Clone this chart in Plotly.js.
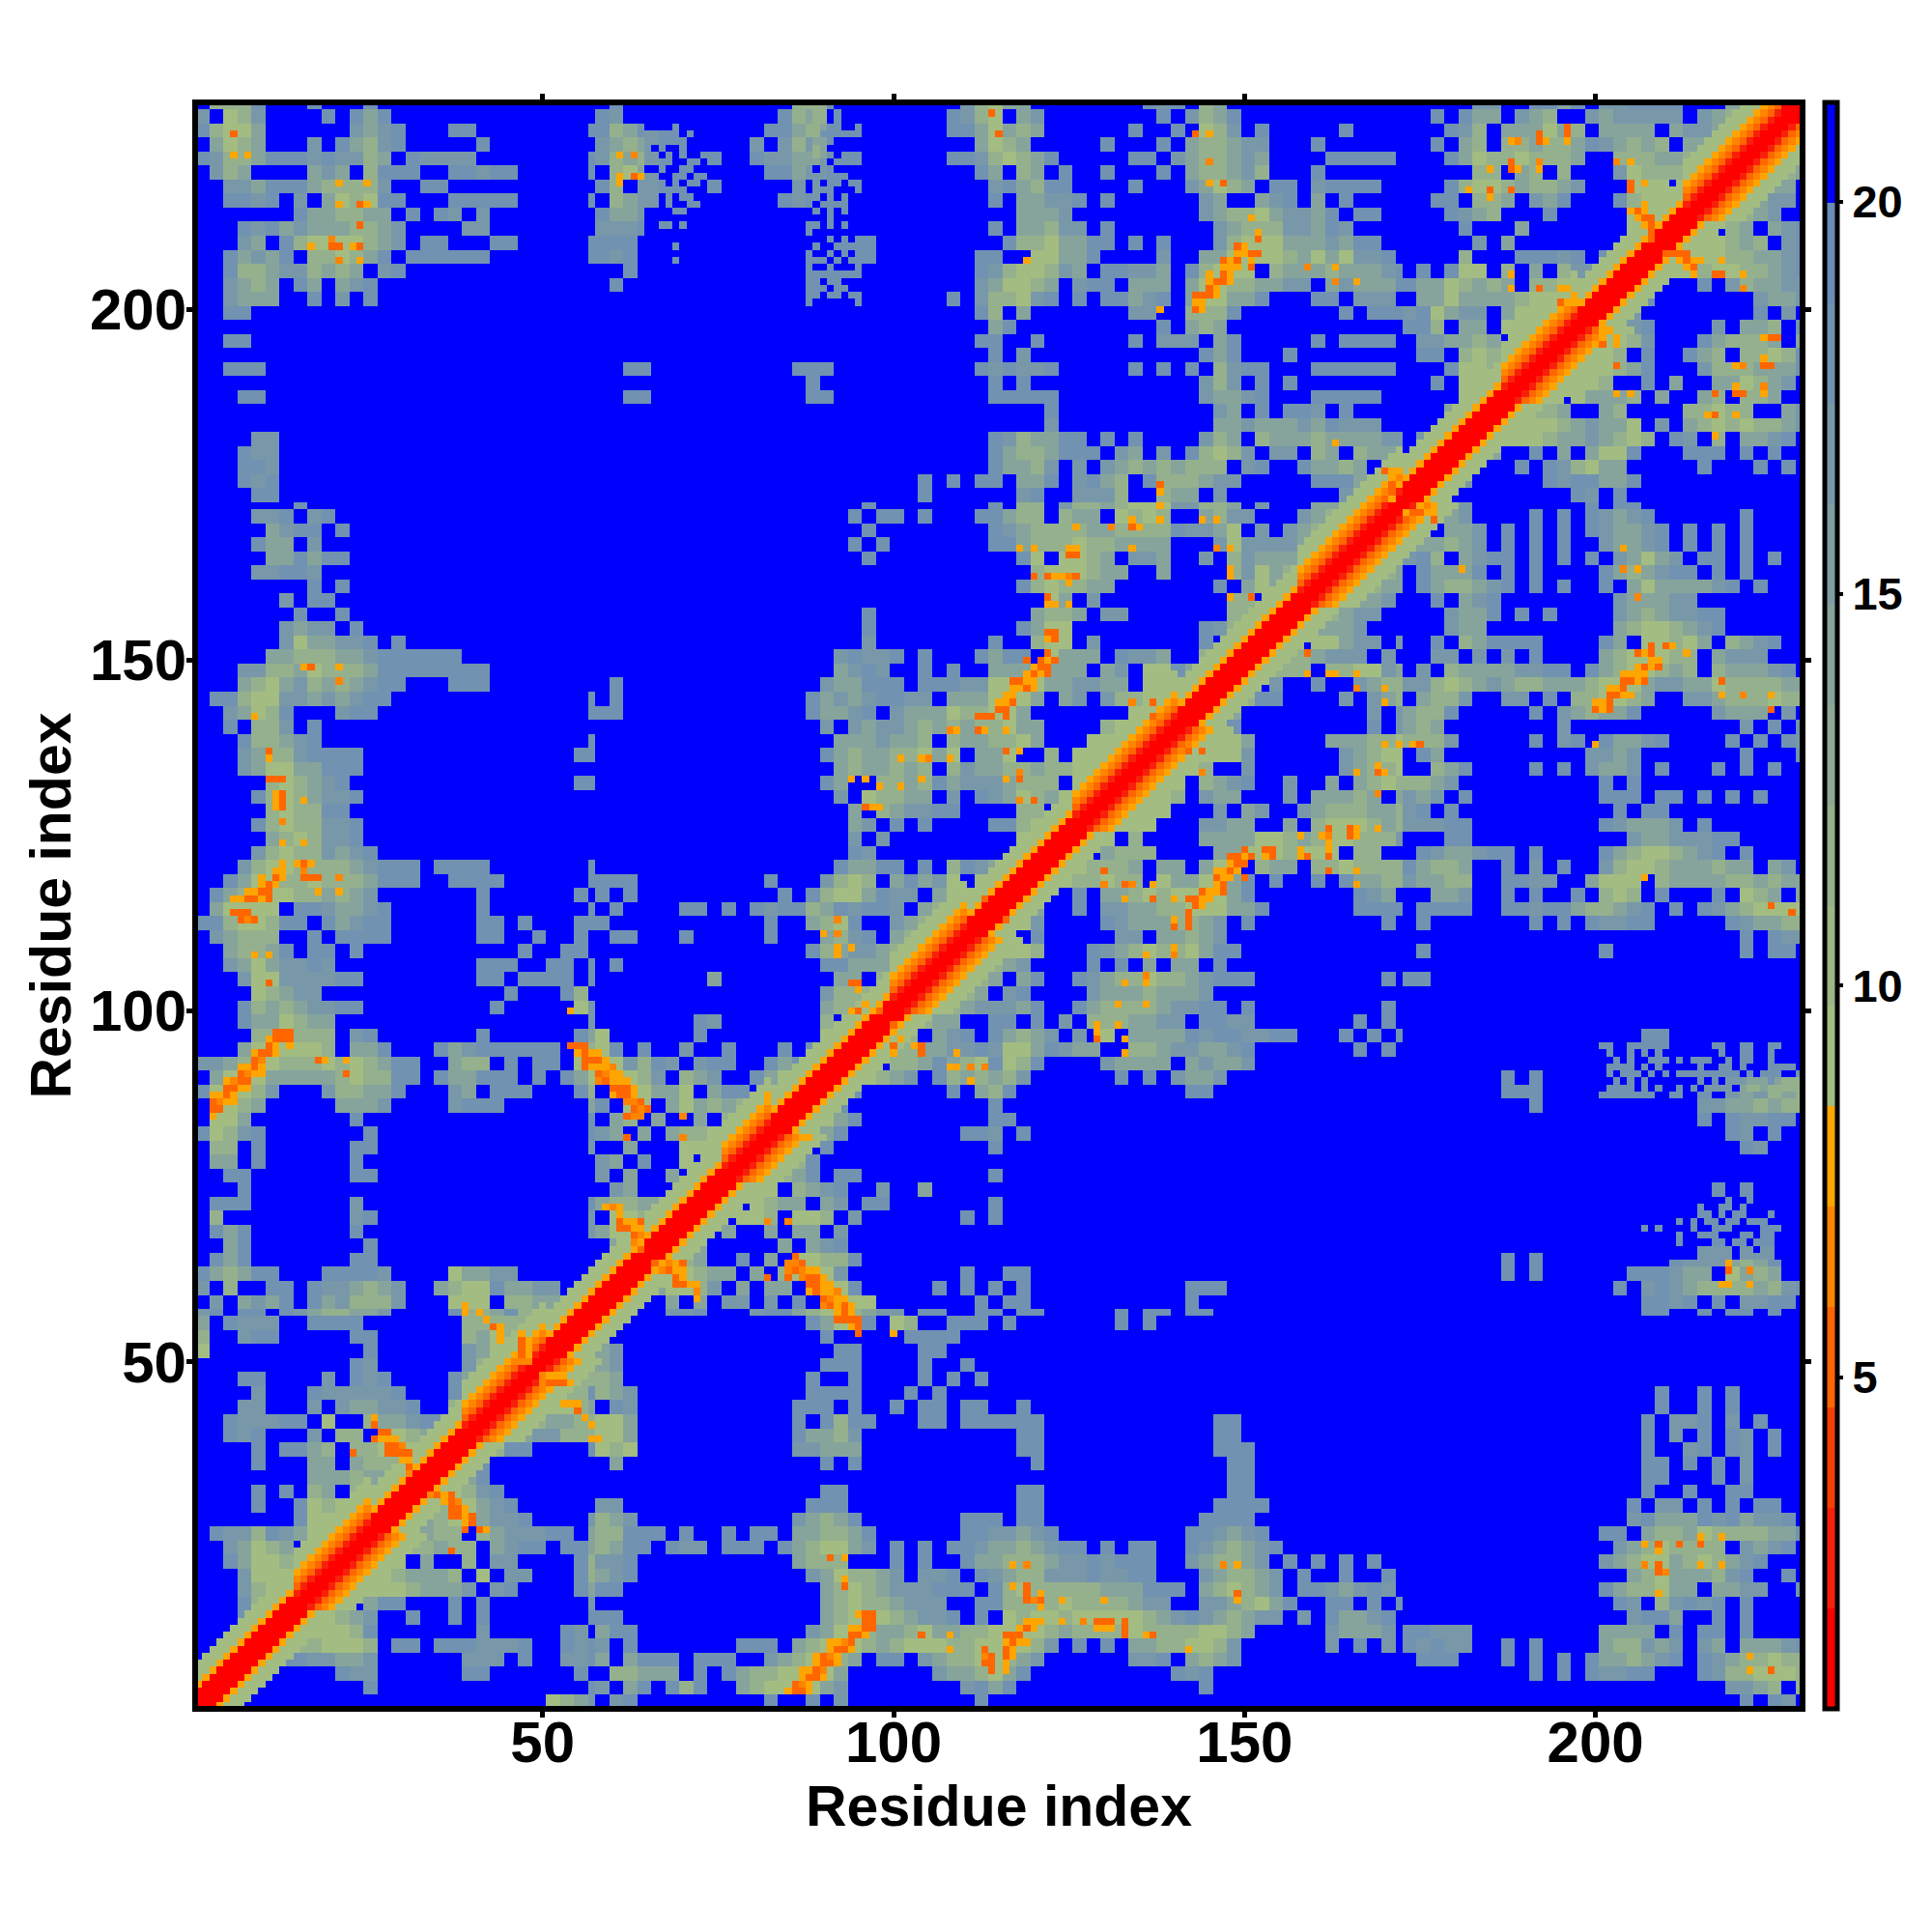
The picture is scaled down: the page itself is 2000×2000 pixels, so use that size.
<!DOCTYPE html>
<html><head><meta charset="utf-8">
<script src="https://cdn.plot.ly/plotly-3.0.1.min.js"></script>
<style>html,body{margin:0;padding:0;background:#fff}</style></head>
<body><div id="chart" style="width:2000px;height:2000px"></div>
<script>
// distance bands (Angstrom codes)
const residueCount = 229;
const codes = {'.':20.6,a:18.6,b:16.5,c:14,d:11.5,e:9.5,o:7.8,p:6.5,q:5.2,s:2.7,r:1.4};
const bandColors = ['#ff0000','#f8200a','#f44000','#ff6600','#ff8500','#ffa500','#a3bc82','#9cb687','#95b08d','#8eaa94','#86a49b','#7f9ea2','#7898a9','#7192b0','#6a8cb6','#0000ff'];
const zMin = 0.77, zMax = 21.27;
const xTicks = [50,100,150,200];
const barTicks = [5,10,15,20];

// off-diagonal contact tiles: 2-residue cells, top row = highest y
const t00 = ["e","ee","eee","eeed","eeedc","eeeedd","eeeedda","eeeeeedc","eeeedccdd","eeedcbbddd","ee.daa....a","eeda........","eeeca........","eeeedba.......","eeedeecba......","edccdeecbba....b","ed..cdd.dcbbbaa.c","eed.ddcdd.cbaa.aac","eeede.c..d.bb....ad","eeeeedcccd.e.bb...ad","eeeeeedcccb.ba....ac","eeee.caa...a.a.......b","eeeedcb..a..a.a.......a","eeeeeeda.......b.....ab.","eedddeeed.aa.aaabbba..aba","eccaabbccb......bbb.a..bba","dca.....abb......aa......a.","dca........a...............a","edcb"];
const t10 = ["e.d..bba...baacdeedcbb.aa..aa","ed.............aceea.ed..aaa.","d...............a.....aaaa...","cb...............aa....aa....","cb..............aaa....a..a..","dc.............a..a....a.a.a.","dcb............aaaa...a.a....",".ab...........aaa.a..a.aa.aa.","eec...........a.adaa...aa.aaa","eec...........accdb..........","ede...........bbccc..........",".c..............a.a..........","","................aa...........","bb.............aaa...........","dcb...........bcdca.......aaa","ddaaa.a..a.aa.ccddca......aab","dcaa.abb.aaa.acdeecb.a.a.aabc","bba...........cddd...a.a..acc","cba............bceddcb.bba.ab","aa..............cdedcbbbaaa.a","................cdeddcbbb..aa","aa..............cdeeedcbba.a.","caa............bceedccdeccdde","b.a.......aaa.cdeeedcdeeeddee","c.caaa.aaa..bcdeedc.aa.bcddee",".ddccc.a.acddeeeec......bccde","b.ca.ada..cdeeeecb........bac",".ba.........a..a.b.........a."];
const t20 = [".aa.....a.aa.aa","a.......a.a","","","","","" ,".a","aaa............aa",".aa............aa",".aa............aaa","..a.............aa","................aa",".aa.............aa",".aa............aaaa",".aa...........aaaa","bcba.........aabcba","cdcbaa.a.aa..abcdcba","dddcbbabaaa..bcddcb.a.a.a.a","cddbbbabbaa...bcddcb.a..a..a","dedddddcccaaa.cdedcb.aabcbab","ddddeddddcbb..bbcdeca..aa.a.a","edeedeeeeedcbabcdcbb.b.accba","eeedcddddeddddeedc.....bcccb","eedb.a.a.ccddeedb......b.a.b","dcb......bba.cdcb","ca..........aba","a.............a",""];
const t30 = [".................aa..a.aa.a..","","","","","","..................a..a.a","..................a..a.a",".................a.bba.b.a",".................a.b.a.ab.a",".................a..ba.ab.a",".................aa.a.a.b",".................aa...a.b",".................a..a..aa","................a.bb.a.a.aa","................bacccabacbba","..............aa.cddceddddcca","...............bcdedddd.bcba","..............bcdeecdedcba","................cdecccdba..a","..............acddecc.ccbb..a","...............ab.dbaba.a","................baac..a.a","aabbb.........cccc.a.aa.a","ababb..a.a....cddbcb.bc.cccba",".aaa...a.a.a.accdcba.abcddedd",".........a.a.abbaa...abddeeed",".......................bbcd.d","........................a.ab"];
const t11 = ["e","ee","eee","eeee","eeeed","eeeedc","eeeedc.","eeeedcbb","eeedcc..a","eedd.cba.a","eeeddccbbab","eee.ddcacdea","eeeeedcb.adcdc","eeca......a.cd","eeea..........a","eeeeca.........a","eeeeca........aab","eeed.a...........a","eeeeda.............","ee.ddca.aa.........a","eeeee.dcba..b..c.....","eee.edcc.cb.aa.......a","eee.eed.eed.b.......a.a","eed.c..c.cc.b...........","eedc.....c.cba...........","eeddc..a.c.eedda..........","eeeeedcc.c.deeeb........a..","eedceedb.c.cc.eeea.....a.a.a","e.d..c.c.bb.b.a.b.ee.......a."];
const t21 = ["eec..a.bbccddeeecca......aaaa","eeb....abcccddcb.a.........a.","d.a.....bb.ccdcb","eed...abcdeddecaa","cb....a.a.c.cc.a",".ca..abcddeddcbaaa.........a.","ba....bcccdcccb","bca..acddddcbbaa.a.........a.","a.a.b.dddccbb.aabb.......a.a.","cdcb.b.e.ccccabaabbaa...a.a.a","eecabcc..ddcbbccba.......a.a.","eda....bcccc.cbccb","db......a.a.bccb","a............aa","","a",".a","","","","","","","","","","aa",".a...........aaa","aa...........a"];
const t31 = [".aaaa..aabaacddcba.a.abcdeeee",".a.......a.a.abbaa.....abccdd","........................a.abb",".a............a.........a.aa.","","aa","","","",".................aa","..............a.aaa...a.a.a","..............baaaaaaa.aa.aa",".......a.a....aaaaaaabbbcccc",".......aaa....aaaa.a.a.bcbdcd",".........a...........bbccdcdd",".....................a.abbaa",".......................ab.a","........................ab","","","......................a.a",".....................aaa.a","...................aa.aaaaaa",".................aaa.aa.aaaa","...................a.baaaaaa",".......a.a.........abbbcdca",".......a.a......aaabcc.ecdc","...............a.babcddddcdba",".................aaba.a.bbaa"];
const t22 = ["e","ee","eee","eeea","eeedd","eeeddc","eeeddcc","eeedccb.","eeedcbb..","eedcccb...","eee.eecbb.b","eeeddcbbb.b.","eeeddd.ddeebc","eee.b..a..bcdd","eeedaa....b.bcd","eeec.........b.b","eeeda.........a.b","eeeeeec.....cccdde","eeeeeeeb......bcdee","eeeeed..b......bcdde","eeeee.dcba..b..c.cded","eeeeed.bcc...b.cccdc.c","eeeeee...b.cb..bcdddccd","eeeeee...bbcc..c.deeedcd","eeee.d....cccceedcdeedddb","eee.cddd....cceeedeee.dd..","eeeedddc.cc.cee.dcc.ddedddd","eeeeddedd.ecceeca.a..a.accdd","eed..a.ccdedeeeeca.......abc."];
const t32 = ["eeedb........a.aa","eedcb....a.a.abcba......a",".d.ccb.a.a.a.abccba.a.a.a","bccdcb.a.a.a..bccba.a.a.a","bad.cbaa.a.a.a.bcecb.aa.a.a",".accca.a.a....acdcbaa.a.a",".acddcba.a.a..a.ceccccba.a","..a.cba........bcccbb","...bcca.a.a....bcdcbbaa","...bcc.........cdeedcba","..a.dcaaaa....ac.eedec.dcba","..bb.b.b.a....cdeeedd.cbbb",".b.dccccbbaa.acdeedcd.dcccba","bbdedcbcddcccdeeecbbcceddddcc",".cddb..bb.a.ddeedc..bbcdddedd","cdda.....a.bcdcca.....bccc.b","cdc........b............b.a.a","dddb.....a.ba.accba....a.a.ab",".ac..........bbcb.......a...a","..dca....a.a.bccb.a...a.a.a","ddcb..........a.a","bcb.a.........aaa.aa.a.a.a","ba.a...........a.aa","bbbaa.........abcccb.a","...aa...........bccbbbaa",".abccbaa.a....acdeedcba.a","acddc..a.b.a..bdeedcccdcc.cb","bccdd..aabb..ceee.dccccddcdcc","..ccb..a.a..a.ded.a...a.edc.c"];
const t33 = ["e","ee","eee","eeed","eeedd","eeeddc","eeedcc.","eeedcbb.","eeeedcb..","eee.dc.cba","eeeeedcd.ba","eeeeeeddccba","eeeeedeeddcba","eeb...a.bdccbb","eeba.......bccb","eedb........a.b.","eeedba....b.ccd.a","eeeeedb...acdddc.c","eeeeed.a..acd.ddeda","eeeeeedca...bdddccca","eeeeeed..a.c..ccedcb.","eeee.ecccd.c..cd.ddc..","ee.ddc..cd....ddedd..cb","eeeeeedcbcce.b.cdededdcb","eeeeeedccbcded.ab.d.ccba.","eedc..a.c.ceea...aaa.a.a..","eec...a.abdecc.....a...a.a.","edb.....abaacca............","edc.........ab.a............."];
const tiles = [[1,1,t00,1],[58,1,t10,0],[116,1,t20,0],[173,1,t30,0],[58,58,t11,1],[116,58,t21,0],[173,58,t31,0],[116,116,t22,1],[173,116,t32,0],[173,173,t33,1]];

// speckled edges at one-residue resolution: [y, first x, codes, blue included]
const detailRows = [
[94,200,"..a..a.a.a........a..aa..a...."],[93,200,"...a.a..aaa.a.aaa..a.aa..a...."],[92,200,"..aaaa.a.a.....a..aa.a...aaaa."],[91,200,"..a.aaa.a.a.aaaaaaaaa.a.aaa..a"],[90,200,"...a.a.a.......a.a.bbbcccacddd"],[89,200,"..aaaa.a.a..a.a.bbbb.cddcddddd"],
[73,205,"..............a..a......."],[72,205,"..........a..aa.a........"],[71,205,"..........aa.a.aa...a...."],[70,205,".......a.a.aa.aa.aaa....."],[69,205,"..a.a....a..aaa....aaa..."],[68,205,".......a..aaa...aa.aa...."],[67,205,".......a....aa.aa.aaa...."],[66,205,"..........bbbbb.bb.bb...."],[65,205,"..........bbbbb.bbbbb...."]
];

// diagonal band, code by |i-j|
const coilBand = ['r','r','r','o','e','e','e'];
const helixBand = ['r','r','s','q','p','o','e','e','e'];
const helixStarts = [15,39,76,100,126,158,187,213];
const helixEnds = [25,50,82,110,140,172,197,226];

// hot contacts at one-residue resolution: [y, first x, codes]
const hotCells = [
[31,34,"pqoq"],[30,36,"oqp"],[29,37,"qqo"],[28,37,"qqoq"],[27,39,"oq"],[26,39,"q.qo"],[44,53,"ooo"],[43,55,"q"],[42,56,"o"],[41,57,"o"],[39,57,"oo"],[48,50,"pooo"],[47,50,"pqqqo"],[23,37,"q"],
[65,86,"q"],[64,85,"ppq"],[63,85,"pqpoo"],[62,82,"q"],[62,85,"q"],[62,87,"pqqo"],[61,88,"qqoo"],[60,88,"oqoop"],[59,90,"qpoo"],[58,90,"pqoqo"],[57,92,"oqo"],[56,92,"qqqq"],[55,94,"oq"],[54,95,"q"],[54,100,"o"],
[14,95,"oqq"],[13,96,"qq"],[12,94,"ooqq"],[11,94,"qqo"],[10,91,"oopq"],[9,91,"oqqo"],[8,89,"oqpo"],[7,89,"oqqo"],[6,87,"ooqp"],[5,87,"oqqo"],[4,86,"qpo"],[3,85,"oqqo"],
[22,91,"q"],[22,93,"o"],[19,93,"o"],[18,93,"q"],[11,104,"q"],[11,108,"o"],[9,108,"o"],[9,113,"q"],[8,113,"pq"],[7,113,"qq"],[6,114,"q"],
[11,116,"qqq"],[12,118,"oqo"],[13,119,"ooo"],[10,116,"oqoo"],[9,116,"qo"],[8,116,"qo"],[7,116,"o"],[6,116,"o"],
[21,117,"o"],[21,119,"p"],[18,117,"o"],[18,119,"q"],[17,119,"q"],[16,119,"qpq"],[17,121,"o"],[15,121,"o"],[16,124,"o"],[16,130,"o"],[13,124,"o"],[13,127,"p"],[13,129,"qqq"],[12,129,"ooo"],[13,133,"q"],[12,133,"q"],[11,133,"q"],[11,136,"oq"],[9,142,"o"],[21,147,"p"],[21,149,"o"],[17,149,"q"],[16,149,"o"],
[24,207,"o"],[24,209,"q"],[24,212,"q"],[25,215,"o"],[24,215,"q"],[25,218,"o"],[23,209,"o"],[21,207,"p"],[21,209,"q"],[20,209,"qp"],[21,215,"o"],[21,218,"o"],[17,209,"o"],[8,222,"o"],[6,222,"o"],[6,225,"q"],
[113,116,"q"],[113,140,"o"],[112,140,"q"],[114,142,"q"],[113,142,"q"],[112,142,"q"],[115,143,"qo"],[109,140,"o"],[108,140,"p"],[108,136,"o"],[105,136,"p"],[104,133,"o"],[104,136,"o"],[101,132,"o"],[101,136,"o"],[98,129,"o"],[97,129,"o"],[96,129,"q"],[98,132,"o"],[96,133,"o"],[94,133,"o"],
[115,225,"q"],[114,228,"q"],[64,219,"o"],[63,219,"q"],[63,222,"p"],[61,218,"oo"],[61,222,"o"],
[139,144,"o"],[137,142,"q"],[137,144,"q"],[134,144,"p"],[151,159,"q"],[148,159,"o"],[148,162,"oo"],[148,166,"o"],[146,166,"p"],[146,170,"o"],[144,170,"o"],[138,170,"o"],[138,172,"o"],[134,166,"o"],[135,169,"o"],[134,169,"qo"],[131,169,"p"],[125,158,"o"],[125,161,"op"],[126,162,"q"],[124,162,"o"],[123,162,"o"],[126,165,"qo"],[125,165,"qo"],[126,169,"o"],
[123,153,"qq"],[122,153,"oq"],[123,150,"q"],[122,148,"qqoq"],[121,148,"oqq"],[120,146,"ooqo"],[119,146,"qoo"],[119,150,"q"],[118,146,"oq"],[117,144,"qooq"],[116,142,"qqoo"],[123,158,"o"],[122,158,"oq"],[122,162,"q"],[120,162,"q"],[120,166,"o"],[118,166,"o"],[116,137,"q"],[116,140,"o"],[116,133,"o"],[120,130,"q"],[118,130,"p"],[118,133,"qp"],[118,137,"o"],
[171,173,"o"],[172,175,"o"],[171,175,"q"],[170,175,"o"],[171,177,"o"],[170,177,"q"],[163,181,"o"],[166,204,"o"],[163,204,"p"],[163,206,"o"],[159,206,"p"],[152,210,"qo"],[152,208,"q"],[151,206,"qoq"],[151,213,"o"],[150,208,"oo"],[149,206,"oqoq"],[148,204,"oooo"],[147,204,"qqoq"],[146,202,"ooq"],[145,202,"qqoo"],[144,200,"ooq"],[143,200,"qoq"],[147,218,"q"],[145,218,"o"],[145,221,"p"],[145,225,"o"],[143,225,"q"],[138,174,"oq"],[138,200,"o"],[119,207,"o"],[115,225,"q"],
[192,220,"op"],[193,224,"o"],[192,224,"qq"],[196,224,"oqq"],[189,220,"o"],[188,220,"qq"],[189,224,"p"],[188,224,"o"],[188,217,"q"],[185,216,"oq"],[185,220,"o"],[182,217,"o"],[192,203,"q"],[188,203,"o"],[188,205,"o"],[197,201,"o"],[196,201,"o"],[196,203,"o"],[195,203,"o"],[195,201,"q"],[207,218,"o"],[205,217,"qq"],[205,221,"o"],[203,221,"p"],[207,214,"o"],[206,214,"q"],[205,214,"o"],[208,210,"qqqq"],[207,212,"oq"],[206,213,"o"],[207,215,"o"],
[95,103,"oq"],[94,104,"q"],[94,109,"o"],[92,108,"oo"],[92,111,"p"],[92,113,"p"],[90,111,"o"],[98,100,"q"],[97,100,"o"],[96,101,"o"],[95,100,"q"],[94,100,"o"],[82,88,"o"],[70,82,"p"],[70,85,"p"],
[64,66,"qopoq"],[63,67,"pqoo"],[62,69,"qo"],[61,69,"qqoo"],[60,72,"p"],[59,72,"o"]
];

const z = [];
for (let i = 0; i < residueCount; i++) z.push(new Array(residueCount).fill(codes['.']));
function put(y, x, c) {
  if (x > y && x <= residueCount && y <= residueCount && c in codes) z[y-1][x-1] = codes[c];
}
tiles.forEach(([x0, y0, rows, diag]) => {
  rows.forEach((row, r) => {
    const s = diag ? row.padStart(29, '.') : row.padEnd(29, '.');
    for (let c = 0; c < 29; c++) {
      const x = x0 + 2*c, y = y0 + 2*(28 - r);
      for (const dx of [0,1]) for (const dy of [0,1]) put(y+dy, x+dx, s[c]);
    }
  });
});
detailRows.forEach(([y, x, s]) => { [...s].forEach((c, k) => put(y, x+k, c)); });
for (let i = 1; i <= residueCount; i++) {
  const h = helixStarts.some((s, k) => i >= s && i <= helixEnds[k]);
  const band = h ? helixBand : coilBand;
  band.forEach((c, off) => { if (off === 0) z[i-1][i-1] = codes[c]; else put(i, i+off, c); });
}
hotCells.forEach(([y, x, s]) => { [...s].forEach((c, k) => { if (c !== '.') put(y, x+k, c); }); });
for (let y = 0; y < residueCount; y++) for (let x = y+1; x < residueCount; x++) z[x][y] = z[y][x];

const colorscale = [];
bandColors.forEach((col, k) => { colorscale.push([k/16, col]); colorscale.push([(k+1)/16, col]); });
const residues = z.map((_, i) => i+1);
const tickFont = {family:'"Liberation Sans",Arial,sans-serif', size:60, color:'#000', weight:700};
const titleFont = {family:'"Liberation Sans",Arial,sans-serif', size:59, color:'#000', weight:700};
const axisBase = {range:[0.5,229.5], tickmode:'array', tickvals:xTicks, ticktext:xTicks.map(String), ticks:'outside', ticklen:7, tickwidth:5, tickcolor:'#000', showline:true, linewidth:2, linecolor:'#000', mirror:'ticks', showgrid:false, zeroline:false, tickfont:tickFont, automargin:false};

Plotly.newPlot('chart', [{
  type:'heatmap', x:residues, y:residues, z:z, colorscale:colorscale, zmin:zMin, zmax:zMax, zsmooth:false, hoverinfo:'skip',
  colorbar:{x:1.0138, xanchor:'left', xref:'paper', y:0.5, yanchor:'middle', len:1, lenmode:'fraction', ypad:0, xpad:0, thickness:13, thicknessmode:'pixels', outlinewidth:5, outlinecolor:'#000', borderwidth:0, tickmode:'array', tickvals:barTicks, ticktext:barTicks.map(String), ticks:'outside', ticklen:4, tickwidth:4, tickcolor:'#000', tickfont:{family:'"Liberation Sans",Arial,sans-serif', size:47, color:'#000', weight:700}}
}], {
  width:2000, height:2000, paper_bgcolor:'#fff', plot_bgcolor:'#0000ff', showlegend:false,
  margin:{l:202, r:134, t:106, b:231, pad:0},
  shapes:[{type:'rect', xref:'paper', yref:'paper', x0:0, x1:1, y0:0, y1:1, line:{color:'#000', width:6}, fillcolor:'rgba(0,0,0,0)', layer:'above'}],
  xaxis:Object.assign({}, axisBase, {ticklabelstandoff:-26, title:{text:'Residue index', font:titleFont, standoff:0}}),
  yaxis:Object.assign({}, axisBase, {ticklabelstandoff:-12, title:{text:'Residue index', font:titleFont, standoff:0}})
}, {displayModeBar:false, staticPlot:true});
</script></body></html>
